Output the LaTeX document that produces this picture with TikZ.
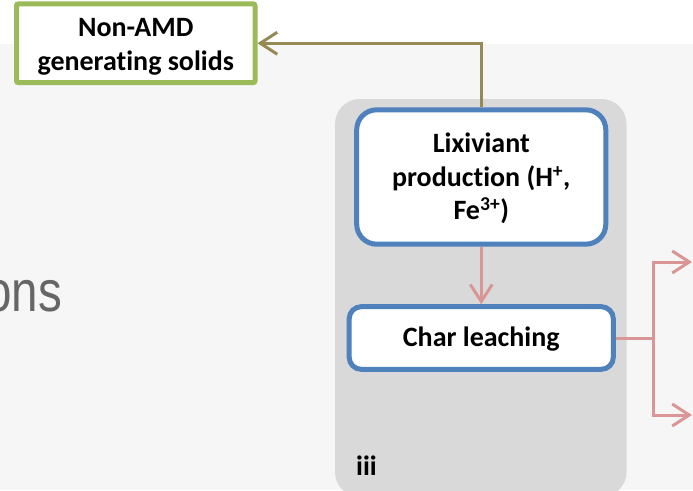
\documentclass[tikz,border=0pt]{standalone}
\usepackage{fontspec}
\setmainfont[Ligatures=NoCommon]{Carlito}
\newfontfamily\onsfont{Liberation Sans}
\usetikzlibrary{arrows.meta}
\definecolor{bgfill}{HTML}{F6F6F6}
\definecolor{panelgray}{HTML}{D9D9D9}
\definecolor{boxblue}{HTML}{4F81BD}
\definecolor{boxgreen}{HTML}{9BBB59}
\definecolor{oliveline}{HTML}{948A54}
\definecolor{pinkline}{HTML}{D99694}
\definecolor{onsgray}{HTML}{666666}
\begin{document}
\begin{tikzpicture}[x=1pt,y=-1pt,
  boxtext/.style={font=\fontsize{28}{33.5}\selectfont\bfseries, anchor=base, inner sep=0pt},
  bluebox/.style={draw=boxblue, line width=5pt, fill=white, inner sep=0pt},
  greenbox/.style={draw=boxgreen, line width=5pt, fill=white, inner sep=0pt, rounded corners=2pt},
  barbtip/.style={-{Straight Barb[length=17pt,width=22pt]}},
  oliveconn/.style={draw=oliveline, line width=3pt, barbtip},
  pinkconn/.style={draw=pinkline, line width=3pt},
  pinkarrow/.style={pinkconn, barbtip}
]
\clip (0,0) rectangle (693,490);
% backgrounds
\fill[white] (0,0) rectangle (693,44);
\fill[bgfill] (0,44) rectangle (693,490);
\fill[panelgray, rounded corners=25pt] (335,99) rectangle (626.5,497);

% partial title text
\node[font=\onsfont\fontsize{58}{60}\selectfont, text=onsgray, anchor=base east, inner sep=0pt] (ons) at (62,311) {\scalebox{0.82}[1]{ons}};

% boxes
\node[greenbox, minimum width=238.5pt, minimum height=78.9pt] (nonamd) at (135.75,43.25) {};
\node[boxtext] (nonamdA) at (135.75,36) {Non-AMD};
\node[boxtext] (nonamdB) at (135.75,70.5) {generating solids};

\node[bluebox, rounded corners=20pt, minimum width=249.1pt, minimum height=134.4pt] (lix) at (481.25,177) {};
\node[boxtext] (lixA) at (481.25,152.7) {Lixiviant};
\node[boxtext] (lixB) at (481.25,186.2) {production (H\textsuperscript{+},};
\node[boxtext] (lixC) at (481.25,219.5) {Fe\textsuperscript{3+})};

\node[bluebox, rounded corners=12pt, minimum width=264.1pt, minimum height=62.6pt] (char) at (481.25,338) {};
\node[boxtext] (charA) at (481.25,346.7) {Char leaching};

\node[boxtext, anchor=base west] (iii) at (356,475) {iii};

% connectors
\draw[oliveconn] (lix.north) |- (nonamd.east);
\draw[pinkarrow] (lix.south) -- (char.north);
\coordinate (split) at (653,338);
\coordinate (outA) at (692,262);
\coordinate (outB) at (692,415);
\draw[pinkconn] (char.east) -- (split);
\draw[pinkarrow] (split) |- (outA);
\draw[pinkarrow] (split) |- (outB);
\end{tikzpicture}
\end{document}
